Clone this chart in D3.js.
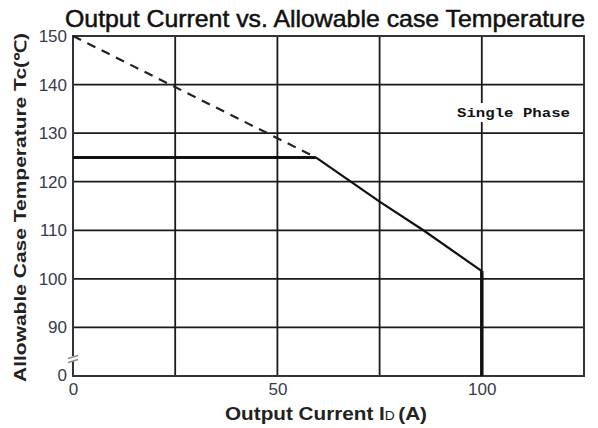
<!DOCTYPE html>
<html>
<head>
<meta charset="utf-8">
<script src="https://cdn.jsdelivr.net/npm/d3@7"></script>
<style>
  html, body { margin: 0; padding: 0; background: #fff; }
  svg { display: block; }
</style>
</head>
<body>
<svg id="chart" width="598" height="428"></svg>
<script>
// ---- data ----
const xGridValues = [25, 50, 75, 100];
const xTickLabels = [0, 50, 100];
const yGridValues = [90, 100, 110, 120, 130, 140];
const yTickValues = [150, 140, 130, 120, 110, 100, 90];
const yBreakLabel = "0";          // bottom of broken axis
const yBottom = 80;               // value represented at axis bottom
const dashedX = [0, 59.4];
const dashedY = [150, 125];
const flatX = [0, 59.4];
const flatY = [125, 125];
const slopeX = [59.4, 75, 85.7, 100];
const slopeY = [125, 115.9, 110, 101.6];
const dropX = [100, 100];
const dropY = [101.6, 80];

const svg = d3.select("#chart");
const pL = 73, pR = 584, pT = 36, pB = 376;

const x = d3.scaleLinear().domain([0, 125]).range([pL, pR]);
const y = d3.scaleLinear().domain([yBottom, 150]).range([pB, pT]);

const ink = "#1a1a1a";

// grid
svg.append("g").selectAll("line").data(yGridValues).join("line")
  .attr("x1", pL).attr("x2", pR)
  .attr("y1", d => y(d)).attr("y2", d => y(d))
  .attr("stroke", ink).attr("stroke-width", 1.8);
svg.append("g").selectAll("line").data(xGridValues).join("line")
  .attr("y1", pT).attr("y2", pB)
  .attr("x1", d => x(d)).attr("x2", d => x(d))
  .attr("stroke", ink).attr("stroke-width", 1.8);

// frame
svg.append("rect").attr("x", pL).attr("y", pT)
  .attr("width", pR - pL).attr("height", pB - pT)
  .attr("fill", "none").attr("stroke", "#333").attr("stroke-width", 2);

// axes via d3 (labels)
const yAxis = d3.axisLeft(y).tickValues(yTickValues).tickSize(0).tickPadding(6);
const gy = svg.append("g").attr("transform", `translate(${pL},0)`).call(yAxis);
gy.select(".domain").remove();
gy.selectAll("text").attr("font-family", "Liberation Sans, Arial, sans-serif")
  .attr("font-size", 17).attr("fill", "#3a3a4a");
gy.append("text").attr("x", -6).attr("y", y(yBottom)).attr("dy", "0.32em")
  .attr("text-anchor", "end").attr("font-family", "Liberation Sans, Arial, sans-serif")
  .attr("font-size", 17).attr("fill", "#3a3a4a").text(yBreakLabel);

const xAxis = d3.axisBottom(x).tickValues(xTickLabels).tickSize(0).tickPadding(7);
const gx = svg.append("g").attr("transform", `translate(0,${pB})`).call(xAxis);
gx.select(".domain").remove();
gx.selectAll("text").attr("font-family", "Liberation Sans, Arial, sans-serif")
  .attr("font-size", 17).attr("fill", "#3a3a4a");

// axis break symbol
const by = y(83.5);
svg.append("rect").attr("x", pL - 5).attr("y", by - 3).attr("width", 10).attr("height", 5).attr("fill", "#fff");
[-2, 2].forEach(o => {
  svg.append("line").attr("x1", pL - 5).attr("x2", pL + 5)
    .attr("y1", by + o + 1.5).attr("y2", by + o - 1.5)
    .attr("stroke", "#888").attr("stroke-width", 1.5);
});

// curves
const line = d3.line().x(d => x(d[0])).y(d => y(d[1]));
svg.append("path").datum(d3.zip(dashedX, dashedY)).attr("d", line)
  .attr("fill", "none").attr("stroke", "#222").attr("stroke-width", 2.2)
  .attr("stroke-dasharray", "9,7");
svg.append("path").datum(d3.zip(flatX, flatY)).attr("d", line)
  .attr("fill", "none").attr("stroke", "#111").attr("stroke-width", 3);
svg.append("path").datum(d3.zip(slopeX, slopeY)).attr("d", line)
  .attr("fill", "none").attr("stroke", "#111").attr("stroke-width", 2.2);
svg.append("path").datum(d3.zip(dropX, dropY)).attr("d", line)
  .attr("fill", "none").attr("stroke", "#111").attr("stroke-width", 3.5);

// Single Phase label
svg.append("rect").attr("x", 455).attr("y", 103).attr("width", 118).attr("height", 19).attr("fill", "#fff");
svg.append("text").attr("x", 457).attr("y", 117)
  .attr("font-family", "Liberation Mono, DejaVu Sans Mono, monospace")
  .attr("font-weight", "bold").attr("font-size", 13)
  .attr("textLength", 113).attr("lengthAdjust", "spacingAndGlyphs")
  .attr("fill", "#111").text("Single Phase");

// title
svg.append("text").attr("x", 65).attr("y", 27)
  .attr("font-family", "Liberation Sans, Arial, sans-serif")
  .attr("font-size", 24)
  .attr("textLength", 520).attr("lengthAdjust", "spacingAndGlyphs")
  .attr("fill", "#111").attr("stroke", "#111").attr("stroke-width", 0.5)
  .text("Output Current vs. Allowable case Temperature");

// y label
svg.append("text")
  .attr("transform", `translate(26,${(33 + 382) / 2}) rotate(-90)`)
  .attr("text-anchor", "middle")
  .attr("font-family", "Liberation Sans, Arial, sans-serif")
  .attr("font-weight", "bold").attr("font-size", 16)
  .attr("textLength", 349).attr("lengthAdjust", "spacingAndGlyphs")
  .attr("fill", "#222").text("Allowable Case Temperature Tc(℃)");

// x label
const xl = svg.append("text").attr("x", 225).attr("y", 420)
  .attr("font-family", "Liberation Sans, Arial, sans-serif")
  .attr("font-weight", "bold").attr("font-size", 18)
  .attr("textLength", 202).attr("lengthAdjust", "spacingAndGlyphs")
  .attr("fill", "#222");
xl.append("tspan").text("Output Current I");
xl.append("tspan").attr("font-size", 12).attr("font-weight", "normal").text("D");
xl.append("tspan").attr("dx", 3).text("(A)");
</script>
</body>
</html>
